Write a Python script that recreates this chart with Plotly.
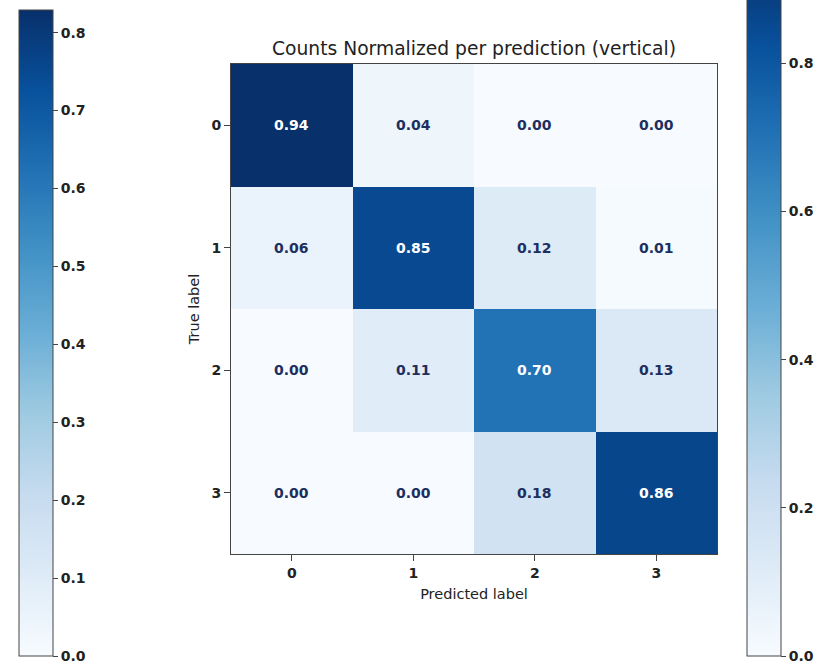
import plotly.graph_objects as go

# Confusion matrix, normalized per predicted class
classes = ["0", "1", "2", "3"]
matrix = [
    [0.94, 0.04, 0.00, 0.00],
    [0.06, 0.85, 0.12, 0.01],
    [0.00, 0.11, 0.70, 0.13],
    [0.00, 0.00, 0.18, 0.86],
]
left_bar_range = [0.0, 0.829]
left_bar_ticks = [0.0, 0.1, 0.2, 0.3, 0.4, 0.5, 0.6, 0.7, 0.8]
right_bar_ticks = [0.0, 0.2, 0.4, 0.6, 0.8]

W, H = 821, 664
# plot area in pixels
PL, PR, PT, PB = 231, 717, 64, 554
PW, PH = PR - PL, PB - PT
BAR_BOTTOM = 656
FONT = "DejaVu Sans"
INK = "#222222"
DARK_TEXT = "#1c2f5e"

blues = [
    [0.000, "rgb(247,251,255)"],
    [0.125, "rgb(222,235,247)"],
    [0.250, "rgb(198,219,239)"],
    [0.375, "rgb(158,202,225)"],
    [0.500, "rgb(107,174,214)"],
    [0.625, "rgb(66,146,198)"],
    [0.750, "rgb(33,113,181)"],
    [0.875, "rgb(8,81,156)"],
    [1.000, "rgb(8,48,107)"],
]

zmax = max(max(r) for r in matrix)


def px_x(p):
    return (p - PL) / PW


def px_y(p):
    return (PB - p) / PH


fig = go.Figure()
fig.add_trace(go.Heatmap(
    z=matrix, x=list(range(len(classes))), y=list(range(len(classes))),
    coloraxis="coloraxis", hoverinfo="z",
))
# carrier trace for the stand-alone colour bar on the left
fig.add_trace(go.Scatter(
    x=[None, None], y=[None, None], mode="markers",
    marker=dict(color=left_bar_range, coloraxis="coloraxis2"),
    showlegend=False, hoverinfo="skip",
))

thresh = zmax / 2
for i, row in enumerate(matrix):
    for j, v in enumerate(row):
        fig.add_annotation(
            x=j, y=i, text=f"{v:.2f}", showarrow=False,
            font=dict(family=FONT, size=14, color="white" if v > thresh else DARK_TEXT,
                      weight="bold"),
        )

bar_common = dict(
    thickness=34, thicknessmode="pixels", lenmode="pixels",
    xanchor="left", yanchor="top",
    xpad=0, ypad=0, outlinewidth=1, outlinecolor="#444444",
    ticks="outside", ticklen=5, tickwidth=1, tickcolor="#444444",
    tickfont=dict(family=FONT, size=14, color=INK, weight="bold"),
    tickformat=".1f", ticklabeloverflow="allow",
)

# right bar: 0.8 sits at y=63, 0.0 at the bottom; the top runs past the page
r_step = (BAR_BOTTOM - 63) / 0.8
r_top = 63 - (zmax - 0.8) * r_step
fig.update_layout(
    width=W, height=H,
    margin=dict(l=PL, r=W - PR, t=PT, b=H - PB, autoexpand=False),
    paper_bgcolor="white", plot_bgcolor="white",
    title=dict(text="Counts Normalized per prediction (vertical)",
               x=474 / W, xanchor="center", xref="container",
               y=1 - 48 / H, yanchor="middle", yref="container",
               font=dict(family=FONT, size=18.7, color=INK)),
    coloraxis=dict(
        colorscale=blues, cmin=0, cmax=zmax,
        colorbar=dict(**bar_common, x=px_x(747), y=px_y(r_top), len=BAR_BOTTOM - r_top,
                      tickvals=right_bar_ticks),
    ),
    coloraxis2=dict(
        colorscale=blues, cmin=left_bar_range[0], cmax=left_bar_range[1],
        colorbar=dict(**bar_common, x=px_x(19), y=px_y(10), len=BAR_BOTTOM - 10,
                      tickvals=left_bar_ticks),
    ),
    xaxis=dict(
        range=[-0.5, 3.5], tickvals=list(range(4)), ticktext=classes,
        ticks="outside", ticklen=6, tickcolor="#444444",
        showgrid=False, zeroline=False, showline=True, linecolor="#444444",
        mirror=True, linewidth=1,
        tickfont=dict(family=FONT, size=14, color=INK, weight="bold"),
        title=dict(text="Predicted label", standoff=9,
                   font=dict(family=FONT, size=14.5, color=INK)),
    ),
    yaxis=dict(
        range=[3.5, -0.5], tickvals=list(range(4)), ticktext=classes,
        ticks="outside", ticklen=6, tickcolor="#444444",
        showgrid=False, zeroline=False, showline=True, linecolor="#444444",
        mirror=True, linewidth=1,
        tickfont=dict(family=FONT, size=14, color=INK, weight="bold"),
        title=dict(text="True label", standoff=8,
                   font=dict(family=FONT, size=14.5, color=INK)),
    ),
)

fig.write_html("out.html")
